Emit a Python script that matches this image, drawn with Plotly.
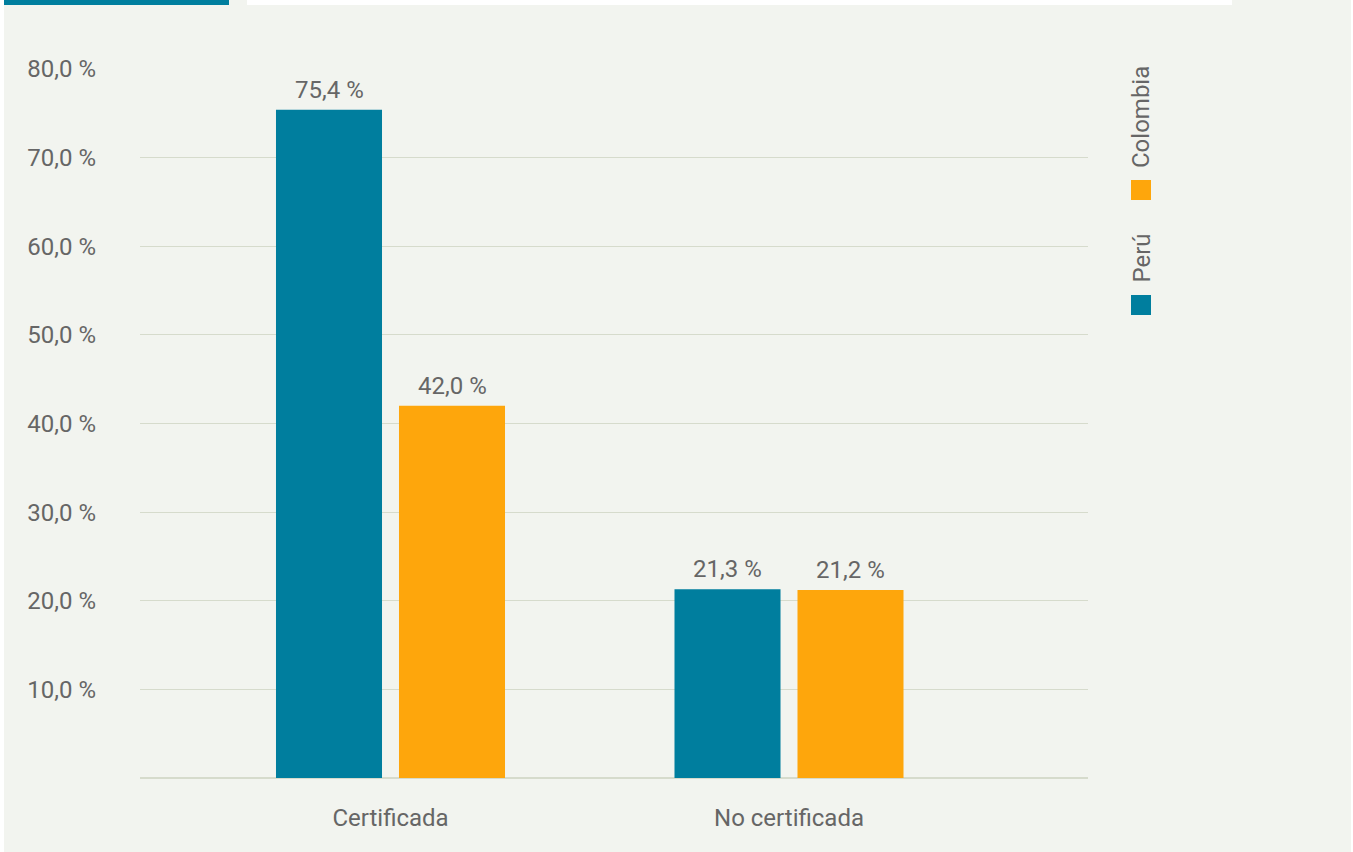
import plotly.graph_objects as go

# Data
categories = ["Certificada", "No certificada"]
peru = [75.4, 21.3]
colombia = [42.0, 21.2]
y_ticks = [10, 20, 30, 40, 50, 60, 70, 80]
y_ticktext = [f"{v:.1f}".replace(".", ",") + " %" for v in y_ticks]

TEAL = "#007e9e"
ORANGE = "#fea60c"
BG = "#f2f4ef"
GRID = "#d6dbcc"
TEXT = "#666666"
FONT = "Roboto"
FS = 24

W, H = 1353, 852
L, R, T, B = 140, 265, 69, 74
pw, ph = W - L - R, H - T - B

BARGAP, GROUPGAP = 0.3827, 0.138
SLOT = (1 - BARGAP) / 2          # width of one bar slot in category units


def px(x):
    return (x - L) / pw


def py(y):
    return (H - B - y) / ph


def fmt(v):
    return f"{v:.1f}".replace(".", ",") + " %"


xs = list(range(len(categories)))

fig = go.Figure()
fig.add_trace(go.Bar(x=xs, y=peru, name="Perú",
                     marker=dict(color=TEAL, line=dict(width=0))))
fig.add_trace(go.Bar(x=xs, y=colombia, name="Colombia",
                     marker=dict(color=ORANGE, line=dict(width=0))))

annotations = []
# value labels above each bar
for series, shift in ((peru, -SLOT / 2), (colombia, SLOT / 2)):
    for x, v in zip(xs, series):
        annotations.append(dict(
            x=x + shift, y=v, xref="x", yref="y", text=fmt(v), showarrow=False,
            xanchor="center", yanchor="bottom", yshift=4,
            font=dict(family=FONT, size=FS, color=TEXT)))

shapes = [
    # white edges of the page
    dict(type="rect", xref="paper", yref="paper", x0=px(0), x1=px(4), y0=py(H), y1=py(0),
         fillcolor="white", line=dict(width=0), layer="below"),
    dict(type="rect", xref="paper", yref="paper", x0=px(1351), x1=px(W), y0=py(H), y1=py(0),
         fillcolor="white", line=dict(width=0), layer="below"),
    # header strips
    dict(type="rect", xref="paper", yref="paper", x0=px(4), x1=px(229), y0=py(5), y1=py(0),
         fillcolor=TEAL, line=dict(width=0)),
    dict(type="rect", xref="paper", yref="paper", x0=px(247), x1=px(1232), y0=py(5), y1=py(0),
         fillcolor="white", line=dict(width=0)),
    # legend swatches
    dict(type="rect", xref="paper", yref="paper", x0=px(1131), x1=px(1151), y0=py(315), y1=py(295),
         fillcolor=TEAL, line=dict(width=0)),
    dict(type="rect", xref="paper", yref="paper", x0=px(1131), x1=px(1151), y0=py(200), y1=py(180),
         fillcolor=ORANGE, line=dict(width=0)),
]

annotations += [
    dict(text="Perú", xref="paper", yref="paper", x=px(1141), y=py(285), textangle=-90,
         showarrow=False, xanchor="center", yanchor="bottom",
         font=dict(family=FONT, size=FS, color=TEXT)),
    dict(text="Colombia", xref="paper", yref="paper", x=px(1141), y=py(170), textangle=-90,
         showarrow=False, xanchor="center", yanchor="bottom",
         font=dict(family=FONT, size=FS, color=TEXT)),
]

fig.update_layout(
    width=W, height=H,
    margin=dict(l=L, r=R, t=T, b=B, pad=0),
    paper_bgcolor=BG, plot_bgcolor=BG,
    barmode="group", bargap=BARGAP, bargroupgap=GROUPGAP,
    showlegend=False,
    font=dict(family=FONT, size=FS, color=TEXT),
    shapes=shapes, annotations=annotations,
    xaxis=dict(
        range=[-0.6286, 1.7503], tickvals=xs, ticktext=categories,
        showgrid=False, zeroline=False, showline=False, ticks="",
        ticklabelstandoff=23, tickfont=dict(family=FONT, size=FS, color=TEXT),
    ),
    yaxis=dict(
        range=[0, 80], tickvals=y_ticks, ticktext=y_ticktext,
        showgrid=True, gridcolor=GRID, gridwidth=1,
        zeroline=True, zerolinecolor=GRID, zerolinewidth=2,
        showline=False, ticks="", ticklabelstandoff=43,
        tickfont=dict(family=FONT, size=FS, color=TEXT),
    ),
)

fig.write_html("out.html")
